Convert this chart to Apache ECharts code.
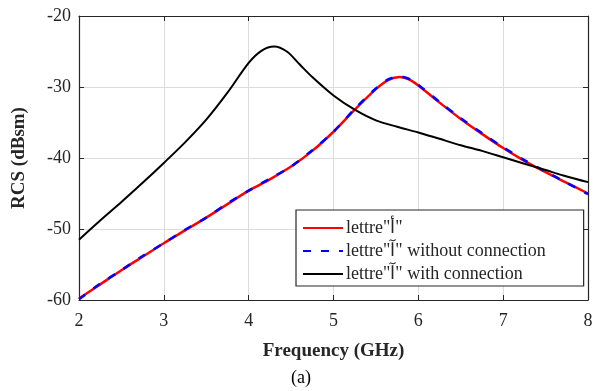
<!DOCTYPE html>
<html><head><meta charset="utf-8">
<script src="https://cdn.jsdelivr.net/npm/echarts@6/dist/echarts.min.js"></script>
<style>html,body{margin:0;padding:0;background:#fff}#c{width:602px;height:391px}</style>
</head><body><div id="c"></div>
<script>
const freqRed = [2,2.25,2.5,2.75,3,3.25,3.5,3.75,4,4.25,4.5,4.75,5,5.25,5.5,5.65,5.78,5.9,6,6.25,6.5,6.75,7,7.25,7.5,7.75,8];
const rcsRed = [-59.8,-57.8,-55.8,-53.9,-52.0,-50.2,-48.4,-46.5,-44.6,-43.0,-41.2,-39.0,-36.3,-33.2,-30.3,-29.0,-28.6,-29.0,-29.8,-32.2,-34.5,-36.6,-38.6,-40.4,-42.0,-43.5,-45.0];
const rcsBlue = [-59.9,-57.7,-55.8,-53.8,-52.0,-50.1,-48.4,-46.4,-44.6,-42.9,-41.2,-38.9,-36.3,-33.1,-30.2,-28.9,-28.5,-28.9,-29.7,-32.1,-34.4,-36.5,-38.5,-40.3,-41.9,-43.5,-45.1];
const freqBlack = [2,2.25,2.5,2.75,3,3.25,3.5,3.75,4,4.15,4.3,4.45,4.6,4.75,5,5.25,5.5,5.75,6,6.25,6.5,6.75,7,7.25,7.5,7.75,8];
const rcsBlack = [-51.5,-48.8,-46.2,-43.5,-40.7,-37.8,-34.6,-30.8,-26.6,-24.9,-24.3,-25.0,-26.8,-28.6,-31.2,-33.2,-34.7,-35.6,-36.4,-37.3,-38.2,-39.0,-39.9,-40.8,-41.7,-42.6,-43.4];
const xTicks = {min:2, max:8, step:1};
const yTicks = {min:-60, max:-20, step:10};
const names = ['lettre"أ"', 'lettre"آ" without connection', 'lettre"آ" with connection'];
const xTitle = 'Frequency (GHz)';
const yTitle = 'RCS (dBsm)';
const caption = '(a)';

const zip = (a,b)=>a.map((v,i)=>[v,b[i]]);
const font = '"Liberation Serif","Times New Roman",serif';
const axisCol = '#262626';
const chart = echarts.init(document.getElementById('c'), null, {renderer:'canvas'});
const baseX = {type:'value', min:xTicks.min, max:xTicks.max, interval:xTicks.step};
const baseY = {type:'value', min:yTicks.min, max:yTicks.max, interval:yTicks.step};
chart.setOption({
  animation:false,
  backgroundColor:'#fff',
  grid:{left:79, right:14, top:16, bottom:91},
  xAxis:[
    Object.assign({}, baseX, {position:'bottom', name:xTitle, nameLocation:'middle', nameGap:42,
      nameTextStyle:{fontFamily:font, fontSize:19, fontWeight:'bold', color:axisCol},
      axisLine:{show:true, lineStyle:{color:axisCol, width:1.2}},
      axisTick:{show:true, inside:true, length:5, lineStyle:{color:axisCol}},
      axisLabel:{fontFamily:font, fontSize:18, color:axisCol, margin:12},
      splitLine:{show:true, lineStyle:{color:'#dcdcdc', width:1}}}),
    Object.assign({}, baseX, {position:'top',
      axisLine:{show:true, lineStyle:{color:axisCol, width:1.2}},
      axisTick:{show:true, inside:true, length:5, lineStyle:{color:axisCol}},
      axisLabel:{show:false}, splitLine:{show:false}})
  ],
  yAxis:[
    Object.assign({}, baseY, {position:'left', name:yTitle, nameLocation:'middle', nameGap:50,
      nameTextStyle:{fontFamily:font, fontSize:19, fontWeight:'bold', color:axisCol},
      axisLine:{show:true, lineStyle:{color:axisCol, width:1.2}},
      axisTick:{show:true, inside:true, length:5, lineStyle:{color:axisCol}},
      axisLabel:{fontFamily:font, fontSize:18, color:axisCol, margin:8},
      splitLine:{show:true, lineStyle:{color:'#dcdcdc', width:1}}}),
    Object.assign({}, baseY, {position:'right',
      axisLine:{show:true, lineStyle:{color:axisCol, width:1.2}},
      axisTick:{show:true, inside:true, length:5, lineStyle:{color:axisCol}},
      axisLabel:{show:false}, splitLine:{show:false}})
  ],
  legend:{
    orient:'vertical', left:296, top:210, itemWidth:40, itemHeight:12, itemGap:5,
    padding:[9,38,3,6], borderColor:axisCol, borderWidth:1.2, backgroundColor:'#fff',
    itemStyle:{opacity:0},
    textStyle:{fontFamily:font, fontSize:18, color:axisCol, padding:[0,0,0,-2]},
    data:names
  },
  series:[
    {name:names[0], type:'line', data:zip(freqRed, rcsRed), smooth:0.3, showSymbol:false, symbol:'none',
      lineStyle:{color:'#ff0000', width:2.5}, itemStyle:{color:'#ff0000'}, z:2},
    {name:names[1], type:'line', data:zip(freqRed, rcsBlue), smooth:0.3, showSymbol:false, symbol:'none',
      lineStyle:{color:'#0000ff', width:2.5, type:[8,10]}, itemStyle:{color:'#0000ff'}, z:3},
    {name:names[2], type:'line', data:zip(freqBlack, rcsBlack), smooth:0.3, showSymbol:false, symbol:'none',
      lineStyle:{color:'#000000', width:2}, itemStyle:{color:'#000000'}, z:4}
  ],
  graphic:[{type:'text', left:'center', top:369, style:{text:caption, font:'18px '+font, fill:'#000'}}]
});
</script></body></html>
